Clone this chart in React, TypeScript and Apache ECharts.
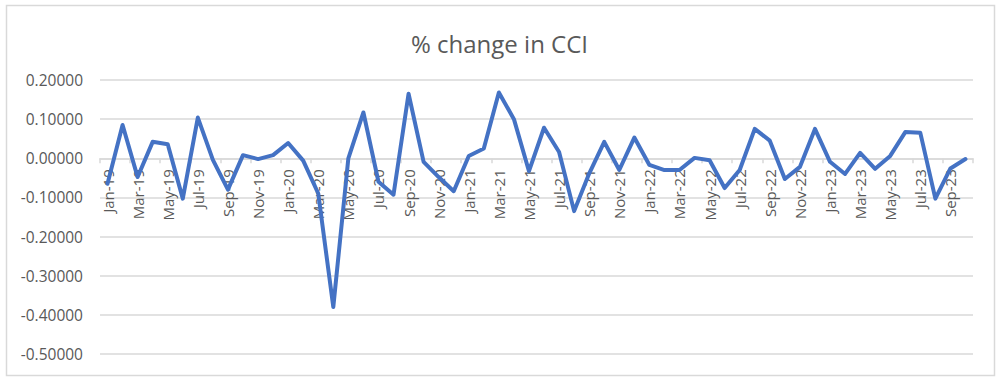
import React, { useEffect, useRef } from "react";
import * as echarts from "echarts";

const categories = [
  "Jan-19", "Feb-19", "Mar-19", "Apr-19", "May-19", "Jun-19", "Jul-19", "Aug-19", "Sep-19", "Oct-19", "Nov-19", "Dec-19",
  "Jan-20", "Feb-20", "Mar-20", "Apr-20", "May-20", "Jun-20", "Jul-20", "Aug-20", "Sep-20", "Oct-20", "Nov-20", "Dec-20",
  "Jan-21", "Feb-21", "Mar-21", "Apr-21", "May-21", "Jun-21", "Jul-21", "Aug-21", "Sep-21", "Oct-21", "Nov-21", "Dec-21",
  "Jan-22", "Feb-22", "Mar-22", "Apr-22", "May-22", "Jun-22", "Jul-22", "Aug-22", "Sep-22", "Oct-22", "Nov-22", "Dec-22",
  "Jan-23", "Feb-23", "Mar-23", "Apr-23", "May-23", "Jun-23", "Jul-23", "Aug-23", "Sep-23", "Oct-23",
];

const cciChange = [
  -0.065, 0.085, -0.048, 0.042, 0.036, -0.103, 0.104, -0.004, -0.080, 0.008, -0.002, 0.008,
  0.039, -0.006, -0.090, -0.380, 0.000, 0.117, -0.060, -0.093, 0.165, -0.009, -0.048, -0.084,
  0.006, 0.025, 0.168, 0.100, -0.033, 0.078, 0.016, -0.135, -0.039, 0.042, -0.030, 0.053,
  -0.017, -0.030, -0.030, 0.001, -0.005, -0.076, -0.030, 0.075, 0.045, -0.053, -0.022, 0.075,
  -0.009, -0.040, 0.014, -0.027, 0.006, 0.067, 0.065, -0.103, -0.026, -0.002,
];

const yMin = -0.5;
const yMax = 0.2;
const yStep = 0.1;

const gridTop = 80;
const gridBottom = 27;
const chartHeight = 381;

export default function App() {
  const ref = useRef<HTMLDivElement>(null);
  useEffect(() => {
    if (!ref.current) return;
    const chart = echarts.init(ref.current, null, { renderer: "svg" });
    const font = "'Open Sans', 'Liberation Sans', sans-serif";
    const plotH = chartHeight - gridTop - gridBottom;
    // distance from the bottom of the plot up to the value 0
    const zeroFromBottom = (plotH * (0 - yMin)) / (yMax - yMin);
    chart.setOption({
      animation: false,
      backgroundColor: "#ffffff",
      title: {
        text: "% change in CCI",
        left: "center",
        top: 26,
        textStyle: {
          fontFamily: font,
          fontSize: 24,
          fontWeight: "normal",
          color: "#595959",
          lineHeight: 24,
        },
      },
      graphic: [
        {
          type: "rect",
          shape: { x: 6.5, y: 5.5, width: 988, height: 370 },
          style: { fill: "none", stroke: "#D9D9D9", lineWidth: 1.5 },
          silent: true,
        },
      ],
      grid: { left: 100, right: 26, top: gridTop, bottom: gridBottom, containLabel: false, outerBoundsMode: "none" },
      xAxis: {
        type: "category",
        data: categories,
        position: "bottom",
        offset: -zeroFromBottom,
        boundaryGap: true,
        axisLine: { show: true, onZero: false, lineStyle: { color: "#D9D9D9", width: 1.5 } },
        axisTick: { show: true, interval: 1, length: 5, lineStyle: { color: "#D9D9D9", width: 1.5 } },
        axisLabel: {
          interval: 1,
          rotate: 90,
          margin: 11,
          fontFamily: font,
          fontSize: 15,
          color: "#595959",
        },
        splitLine: { show: false },
        z: 1,
      },
      yAxis: {
        type: "value",
        min: yMin,
        max: yMax,
        interval: yStep,
        axisLine: { show: false },
        axisTick: { show: false },
        axisLabel: {
          margin: 17,
          fontFamily: font,
          fontSize: 15.5,
          color: "#595959",
          formatter: (v: number) => v.toFixed(5),
        },
        splitLine: { show: true, lineStyle: { color: "#D9D9D9", width: 1.5 } },
      },
      series: [
        {
          type: "line",
          data: cciChange,
          showSymbol: false,
          symbol: "none",
          lineStyle: { color: "#4472C4", width: 4, join: "round", cap: "round" },
          itemStyle: { color: "#4472C4" },
          z: 3,
        },
      ],
    });
    return () => chart.dispose();
  }, []);
  return (
    <div
      ref={ref}
      style={{ position: "absolute", left: 0, top: 0, width: 999, height: 381, background: "#fff" }}
    />
  );
}
